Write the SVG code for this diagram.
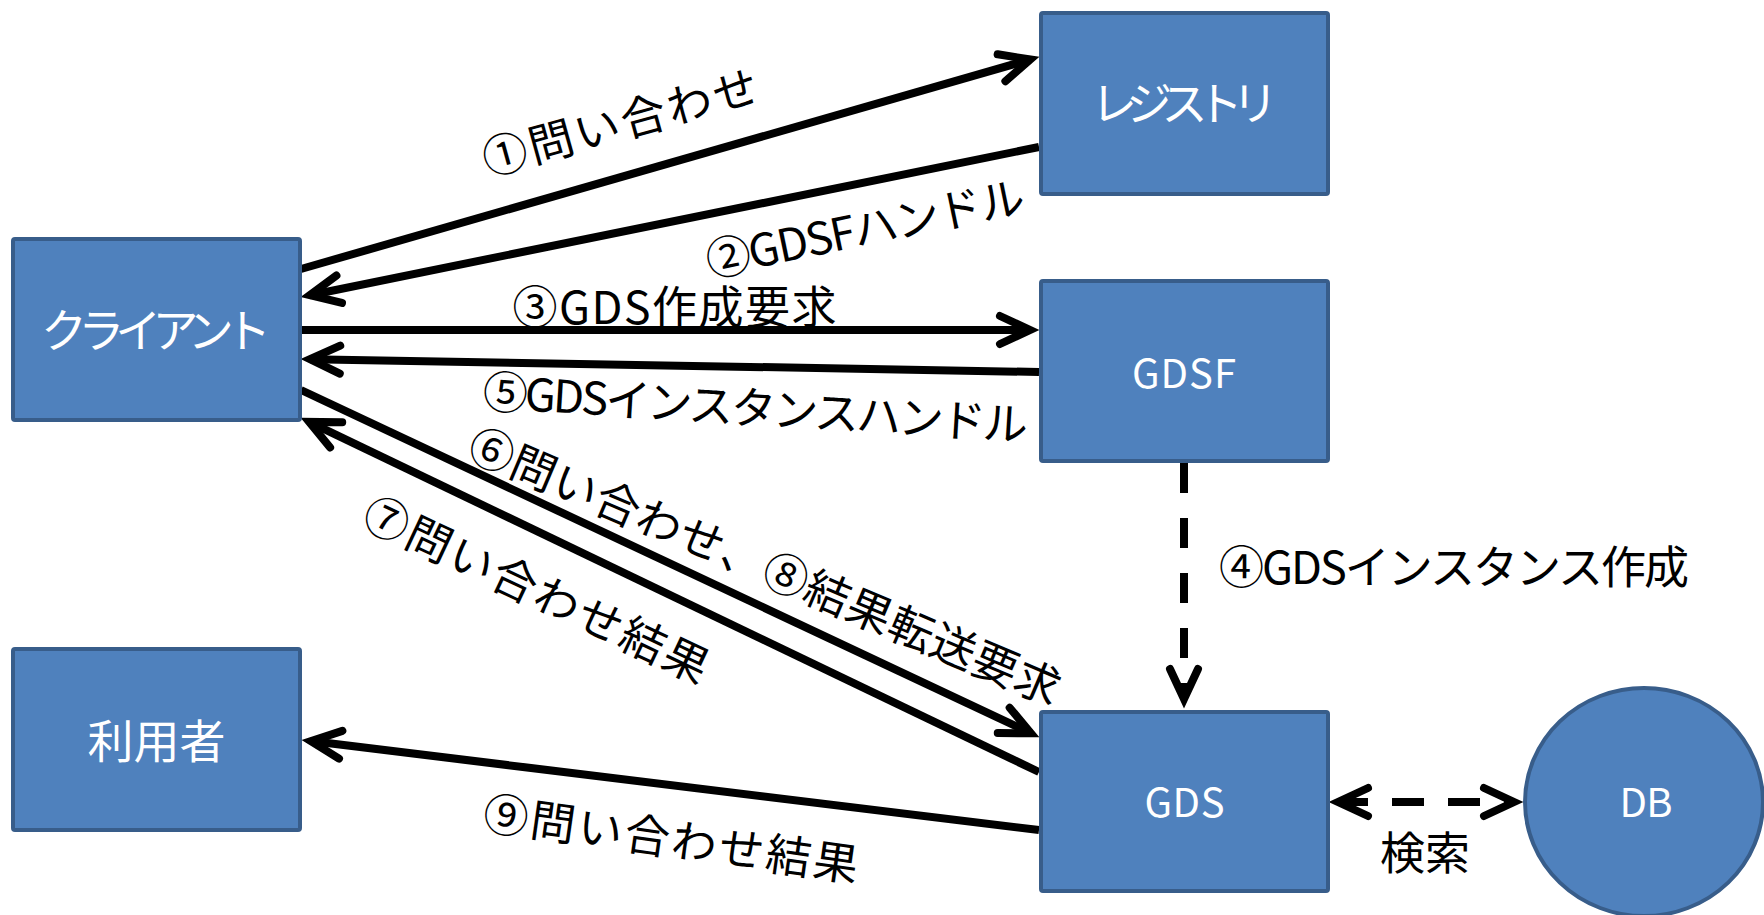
<svg xmlns="http://www.w3.org/2000/svg" width="1764" height="915" viewBox="0 0 1764 915">
  <defs>
    <style>
      .node { fill: #4F81BD; stroke: #385D8A; stroke-width: 4; }
      .ntext { fill: #FFFFFF; font-family: "Noto Sans CJK JP", "Noto Sans", sans-serif; text-anchor: middle; }
      .conn { fill: none; stroke: #000000; stroke-width: 8; }
      .solid { marker-end: url(#ah); }
      .dash4 { stroke-dasharray: 30 25; marker-end: url(#ah); }
      .dashdb { stroke-dasharray: 32 24; stroke-dashoffset: 2; marker-start: url(#ah); marker-end: url(#ah); }
      .label { fill: #000000; font-family: "Noto Sans CJK JP", "Noto Sans", sans-serif; font-size: 45px; text-anchor: middle; }
    </style>
    <marker id="ah" markerUnits="userSpaceOnUse" viewBox="-40 -25 50 50" markerWidth="50" markerHeight="50" refX="0" refY="0" orient="auto-start-reverse" overflow="visible">
      <path d="M -30 -14 L 0 0 L -30 14" fill="none" stroke="#000000" stroke-width="8" stroke-linecap="round" stroke-linejoin="miter" stroke-dasharray="none"/>
    </marker>
  </defs>
  <rect width="1764" height="915" fill="#FFFFFF"/>

  <g id="connectors">
    <path class="conn solid" d="M 301 269 L 1030.35 59.48"/>
    <path class="conn solid" d="M 1039 147 L 309.82 295.21"/>
    <path class="conn solid" d="M 301 330 L 1030 330"/>
    <path class="conn solid" d="M 1039 372 L 310 359.16"/>
    <path class="conn solid" d="M 301 390 L 1030.86 733.17"/>
    <path class="conn solid" d="M 1039 772 L 309.12 421.89"/>
    <path class="conn solid" d="M 1039 830 L 310.93 741.09"/>
    <path class="conn dash4" d="M 1184 463 L 1184 699"/>
    <path class="conn dashdb" d="M 1338 802 L 1514 802"/>
  </g>

  <g id="labels">
    <text class="label" x="620" y="139" transform="rotate(-15.5 620 122)" textLength="284">①問い合わせ</text>
    <text class="label" x="865" y="245" transform="rotate(-11.7 865 228)" textLength="324">②GDSFハンドル</text>
    <text class="label" x="674.5" y="324" textLength="324">③GDS作成要求</text>
    <text class="label" x="1454" y="584" textLength="470">④GDSインスタンス作成</text>
    <text class="label" x="755.5" y="424.5" transform="rotate(3.5 755.5 407.5)" textLength="546">⑤GDSインスタンスハンドル</text>
    <text class="label" x="765" y="583" transform="rotate(23 765 566)" textLength="638">⑥問い合わせ、⑧結果転送要求</text>
    <text class="label" x="536.5" y="606.5" transform="rotate(25.2 536.5 589.5)" textLength="376">⑦問い合わせ結果</text>
    <text class="label" x="671" y="855.5" transform="rotate(8.1 671 838.5)" textLength="378">⑨問い合わせ結果</text>
    <text class="label" x="1425" y="870">検索</text>
  </g>

  <g id="node-registry">
    <rect class="node" x="1041" y="13" width="287" height="181" rx="2"/>
    <text class="ntext" x="1184.5" y="120" font-size="46" textLength="187">レジストリ</text>
  </g>
  <g id="node-client">
    <rect class="node" x="13" y="239" width="287" height="181" rx="2"/>
    <text class="ntext" x="156" y="347" font-size="46" textLength="230">クライアント</text>
  </g>
  <g id="node-gdsf">
    <rect class="node" x="1041" y="281" width="287" height="180" rx="2"/>
    <text class="ntext" x="1184" y="388" font-size="40" textLength="104">GDSF</text>
  </g>
  <g id="node-user">
    <rect class="node" x="13" y="649" width="287" height="181" rx="2"/>
    <text class="ntext" x="156.5" y="758" font-size="46">利用者</text>
  </g>
  <g id="node-gds">
    <rect class="node" x="1041" y="712" width="287" height="179" rx="2"/>
    <text class="ntext" x="1184.5" y="817" font-size="40" textLength="80">GDS</text>
  </g>
  <g id="node-db">
    <ellipse class="node" cx="1644" cy="802" rx="119" ry="114"/>
    <text class="ntext" x="1646" y="817" font-size="40" textLength="53">DB</text>
  </g>
</svg>
